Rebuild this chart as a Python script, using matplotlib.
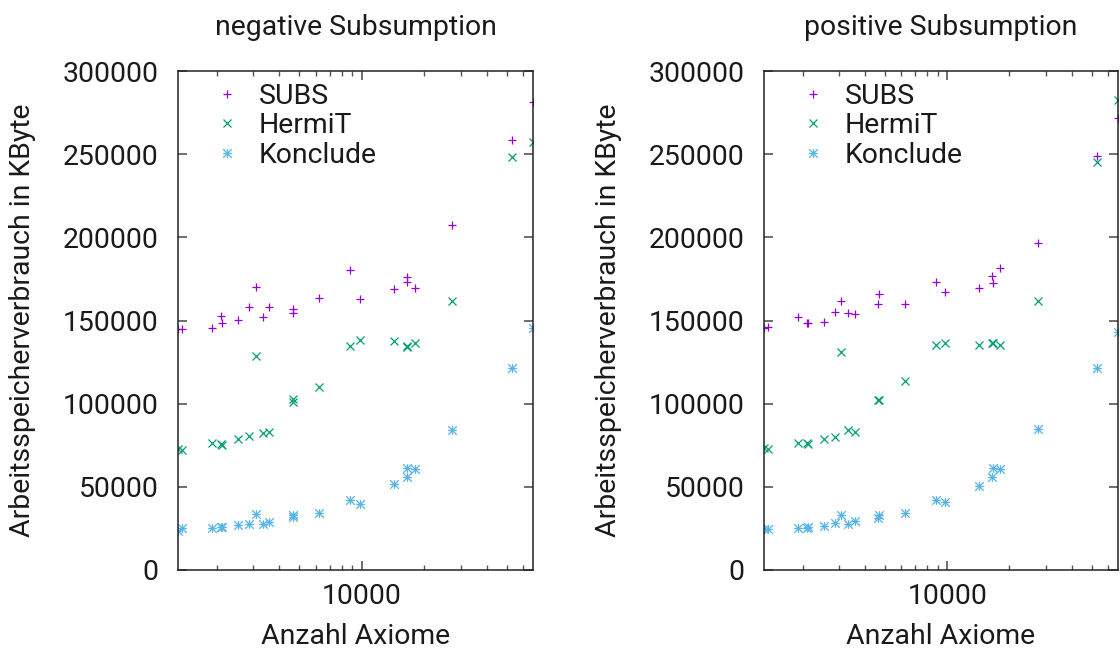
import numpy as np
import matplotlib
matplotlib.use("Agg")
import matplotlib.pyplot as plt
from matplotlib.path import Path
from matplotlib.ticker import LogLocator, NullFormatter, FuncFormatter

plt.rcParams['font.family'] = ['Roboto', 'DejaVu Sans']

# number of axioms (shared by both panels)
axioms = [1300, 1360, 1905, 2090, 2130, 2535, 2865, 3075, 3325, 3580, 4640, 4675,
          6240, 8780, 9810, 14320, 16500, 16610, 18090, 27400, 53040, 67000]

# negative subsumption (KByte)
neg_subs = [144700, 144700, 145700, 152900, 148300, 150300, 158300, 170400, 152300, 158300,
            154700, 156800, 163700, 180400, 162800, 168800, 176400, 173400, 169700, 207400,
            258600, 281200]
neg_hermit = [72800, 72300, 76500, 75600, 75200, 78800, 80800, 128700, 82200, 83200,
              102600, 101200, 109900, 134700, 138300, 137700, 134700, 134300, 136300, 161700,
              248200, 257500]
neg_konclude = [23500, 25100, 25100, 26000, 26000, 27100, 27500, 33500, 27500, 29000,
                32000, 33100, 34500, 42100, 39700, 51700, 56100, 61500, 60700, 84200,
                121600, 145700]

# positive subsumption (KByte)
pos_subs = [145700, 146300, 152300, 148300, 148700, 149300, 155300, 161700, 154400, 153800,
            159800, 165800, 159900, 173400, 167300, 169400, 176800, 172400, 181400, 196800,
            249100, 271600]
pos_hermit = [73200, 72800, 76200, 76200, 75600, 78600, 80200, 130900, 84200, 83200,
              102200, 102200, 113600, 135300, 136300, 135300, 136300, 136300, 135300, 161700,
              245100, 282600]
pos_konclude = [24500, 24500, 25100, 25400, 26000, 26500, 28400, 33100, 27700, 29600,
                31100, 33100, 34100, 42100, 41100, 50500, 55700, 61500, 60600, 84800,
                121300, 143300]

titles = ["negative Subsumption", "positive Subsumption"]
series_names = ["SUBS", "HermiT", "Konclude"]
colors = ["#9400D3", "#009E73", "#56B4E9"]
yticks = [0, 50000, 100000, 150000, 200000, 250000, 300000]

star = Path([(-1, 0), (1, 0), (0, -1), (0, 1), (-1, -1), (1, 1), (-1, 1), (1, -1)],
            [Path.MOVETO, Path.LINETO] * 4)
markers = ['+', 'x', star]

fig = plt.figure(figsize=(11.2, 6.55), dpi=100)
W, H = 1120, 655
axes = [fig.add_axes([178 / W, 85 / H, 355 / W, 499 / H]),
        fig.add_axes([764 / W, 85 / H, 354 / W, 499 / H])]

panels = [(neg_subs, neg_hermit, neg_konclude), (pos_subs, pos_hermit, pos_konclude)]

FS = 20.4
TXT = '#1a1a1a'
for ax, title, data in zip(axes, titles, panels):
    for vals, name, col, mk in zip(data, series_names, colors, markers):
        ax.plot(axioms, vals, linestyle='none', marker=mk, markersize=6.2,
                markeredgewidth=0.9, color=col, mfc='none', label=name)
    ax.set_xscale('log')
    ax.set_xlim(axioms[0], axioms[-1])
    ax.set_ylim(yticks[0], yticks[-1])
    ax.set_yticks(yticks)
    ax.yaxis.set_major_formatter(FuncFormatter(lambda v, p: f"{int(v)}"))
    ax.xaxis.set_major_locator(LogLocator(base=10))
    ax.xaxis.set_minor_locator(LogLocator(base=10, subs=np.arange(2, 10)))
    ax.xaxis.set_minor_formatter(NullFormatter())
    ax.xaxis.set_major_formatter(FuncFormatter(lambda v, p: f"{int(round(v))}"))
    ax.tick_params(which='both', direction='in', top=True, right=True,
                   labelsize=FS, color='#555555', labelcolor=TXT)
    ax.tick_params(which='major', length=6.5, width=1.2)
    ax.tick_params(which='minor', length=3.3, width=1.0)
    ax.tick_params(axis='y', pad=14)
    ax.tick_params(axis='x', pad=9)
    for sp in ax.spines.values():
        sp.set_linewidth(1.1)
        sp.set_color('#222222')
    ax.set_title(title, fontsize=FS, pad=26, color=TXT)
    ax.set_xlabel("Anzahl Axiome", fontsize=FS, labelpad=10, color=TXT)
    ax.set_ylabel("Arbeitsspeicherverbrauch in KByte", fontsize=FS, labelpad=19, color=TXT)
    leg = ax.legend(loc='upper left', bbox_to_anchor=(0.099, 0.976), frameon=False,
                    fontsize=FS, handlelength=1.0, handletextpad=0.62, labelspacing=0.08,
                    borderpad=0, borderaxespad=0, markerscale=1.0)
    for t in leg.get_texts():
        t.set_color(TXT)

fig.savefig("out.png", dpi=100)
